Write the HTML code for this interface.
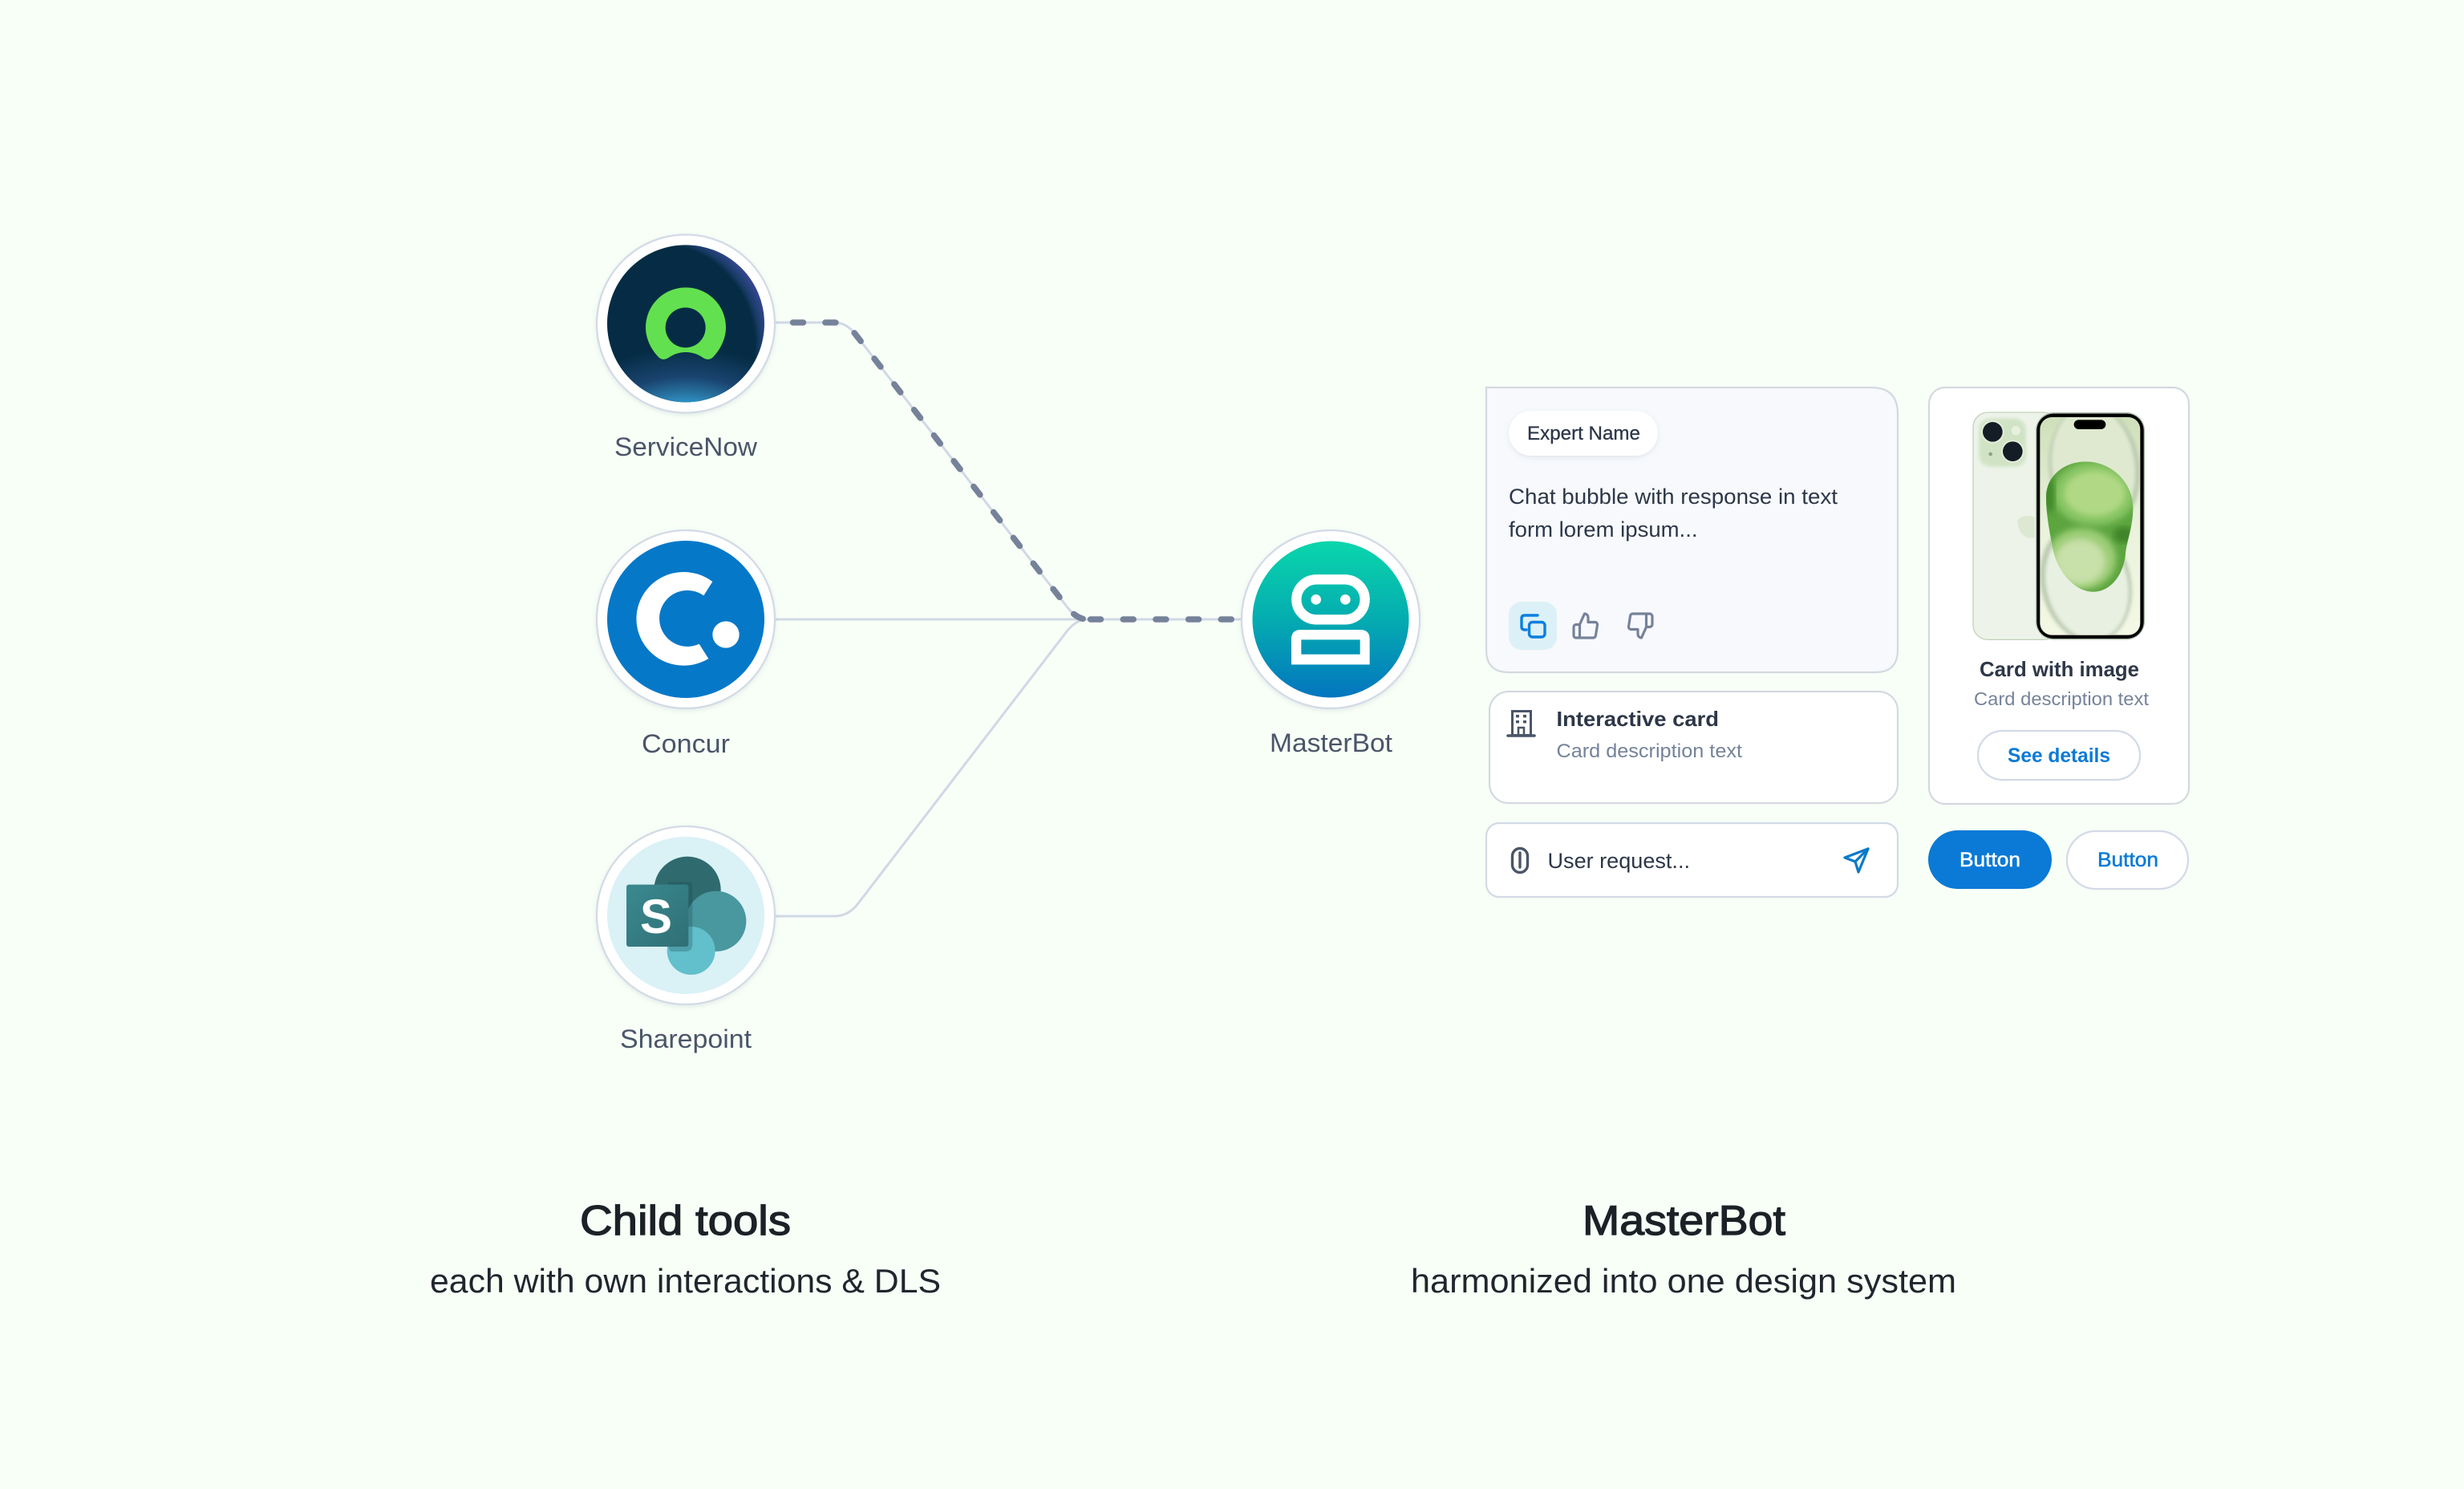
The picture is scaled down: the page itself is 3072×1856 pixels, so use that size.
<!DOCTYPE html>
<html lang="en">
<head>
<meta charset="utf-8">
<title>Child tools and MasterBot</title>
<style>
html,body{margin:0;padding:0;background:#f8fff7;}
svg{display:block;position:absolute;left:0;top:0;}
text{font-family:"Liberation Sans",sans-serif;}
</style>
</head>
<body>
<svg width="3072" height="1856" viewBox="0 0 3072 1856" xmlns="http://www.w3.org/2000/svg">
<defs>
  <filter id="softShadow" x="-20%" y="-20%" width="140%" height="140%"><feDropShadow dx="0" dy="2" stdDeviation="3" flood-color="#8a97ad" flood-opacity=".2"/></filter>
  <filter id="pillShadow" x="-20%" y="-30%" width="140%" height="170%"><feDropShadow dx="0" dy="2" stdDeviation="3" flood-color="#9aa7b8" flood-opacity=".25"/></filter>
  <filter id="b6"><feGaussianBlur stdDeviation="6"/></filter>
  <filter id="b12"><feGaussianBlur stdDeviation="12"/></filter>
  <radialGradient id="snBand" gradientUnits="userSpaceOnUse" cx="280" cy="480" r="480">
    <stop offset="0" stop-color="#052c44"/><stop offset=".8" stop-color="#052c44"/>
    <stop offset=".84" stop-color="#193c68"/><stop offset=".89" stop-color="#2b4483"/><stop offset=".95" stop-color="#46459f"/><stop offset="1" stop-color="#46459f"/>
  </radialGradient>
  <radialGradient id="snBlue" gradientUnits="userSpaceOnUse" cx="405" cy="830" r="340" gradientTransform="translate(405 830) scale(1.5 1) translate(-405 -830)">
    <stop offset="0" stop-color="#2aa2da"/><stop offset=".36" stop-color="#2a9fd6"/><stop offset=".46" stop-color="#2b7fae"/><stop offset=".68" stop-color="#1a4470"/><stop offset="1" stop-color="#1a4470" stop-opacity="0"/>
  </radialGradient>
  <linearGradient id="mbGrad" x1="0" y1="0" x2="0" y2="1">
    <stop offset="0" stop-color="#0ad6ab"/><stop offset=".5" stop-color="#04acb0"/><stop offset="1" stop-color="#0375bf"/>
  </linearGradient>
  <linearGradient id="spSq" x1="0" y1="0" x2="1" y2="1">
    <stop offset="0" stop-color="#3a8a90"/><stop offset="1" stop-color="#2f6f75"/>
  </linearGradient>
  <linearGradient id="scr" x1="0" y1="0" x2="0" y2="1">
    <stop offset="0" stop-color="#cfdfba"/><stop offset=".5" stop-color="#eaf2dc"/><stop offset="1" stop-color="#f3f8e4"/>
  </linearGradient>
  <clipPath id="snClip"><circle cx="405" cy="400" r="294"/></clipPath>
  <clipPath id="screen"><rect x="460" y="150" width="375" height="815" rx="45"/></clipPath>
  <clipPath id="greenClip"><path d="M620 317C720 310 808 390 808 490C808 560 785 610 780 660C775 730 730 805 655 803C590 800 530 730 510 650C500 600 483 520 483 450C483 370 550 320 620 317Z"/></clipPath>
</defs>

<rect width="3072" height="1856" fill="#f8fff7"/>

<!-- connectors -->
<g fill="none" stroke="#d0d8e6" stroke-width="3">
  <path d="M967 402H1040Q1055 402 1066 416L1330 756Q1342 772 1356 772"/>
  <path d="M967 772H1356"/>
  <path d="M967 1142H1040Q1058 1142 1070 1126L1330 787Q1342 772 1356 772"/>
  <path d="M1356 772H1548"/>
</g>
<g fill="none" stroke="#758299" stroke-width="7.5" stroke-linecap="round">
  <path stroke-dasharray="13 27.4" d="M988.5 402H1040Q1055 402 1066 416L1330 756Q1342 772 1356 772"/>
  <path stroke-dasharray="13 27.7" d="M1359.5 772H1540"/>
</g>

<!-- ServiceNow node -->
<circle cx="855" cy="403.5" r="111" fill="#fff" stroke="#d3dae6" stroke-width="2.2" filter="url(#softShadow)"/>
<g transform="translate(720 270) scale(.33333)">
  <g clip-path="url(#snClip)">
    <rect x="100" y="100" width="610" height="610" fill="url(#snBand)"/>
    <rect x="100" y="470" width="610" height="240" fill="url(#snBlue)"/>
  </g>
  <path fill="#63e04f" fill-rule="evenodd" d="M405 265C488 265 555 332 555 415C555 455 535 495 510 522C498 537 482 536 470 528C452 515 430 507 405 507C380 507 358 515 340 528C328 536 312 537 300 522C275 495 255 455 255 415C255 332 322 265 405 265ZM404 340A75 75 0 1 0 404 490A75 75 0 1 0 404 340Z"/>
</g>
<text x="766" y="568" font-size="32" fill="#4a5568" textLength="178" lengthAdjust="spacingAndGlyphs">ServiceNow</text>

<!-- Concur node -->
<circle cx="855" cy="772" r="111" fill="#fff" stroke="#d3dae6" stroke-width="2.2" filter="url(#softShadow)"/>
<circle cx="855" cy="772" r="98" fill="#0678c8"/>
<g transform="translate(720 640) scale(.33333)" fill="#fff">
  <path d="M505 255A177 175 0 1 0 490 543L455 488A105 105 0 1 1 472 307Z"/>
  <circle cx="555" cy="453" r="50"/>
</g>
<text x="800" y="938" font-size="32" fill="#4a5568" textLength="110" lengthAdjust="spacingAndGlyphs">Concur</text>

<!-- Sharepoint node -->
<circle cx="855" cy="1141" r="111" fill="#fff" stroke="#d3dae6" stroke-width="2.2" filter="url(#softShadow)"/>
<circle cx="855" cy="1141" r="98" fill="#daf1f6"/>
<g transform="translate(720 1010) scale(.33333)">
  <circle cx="411" cy="298" r="125" fill="#2f6b6e"/>
  <circle cx="518" cy="415" r="113" fill="#49979f"/>
  <circle cx="425" cy="525" r="90" fill="#62bfcc"/>
  <path d="M340 268H418Q430 268 430 280V500Q430 528 405 528H350Q340 520 340 505Z" fill="#16404a" opacity=".26"/>
  <rect x="183" y="278" width="232" height="232" rx="9" fill="url(#spSq)"/>
</g>
<text x="818" y="1163" font-size="60" font-weight="700" fill="#fff" text-anchor="middle">S</text>
<text x="773" y="1306" font-size="32" fill="#4a5568" textLength="164" lengthAdjust="spacingAndGlyphs">Sharepoint</text>

<!-- MasterBot node -->
<circle cx="1659" cy="772" r="111" fill="#fff" stroke="#d3dae6" stroke-width="2.2" filter="url(#softShadow)"/>
<circle cx="1659" cy="772" r="97.5" fill="url(#mbGrad)"/>
<g transform="translate(1520 640) scale(.33333)">
  <rect x="289" y="247" width="256" height="150" rx="75" fill="none" stroke="#fff" stroke-width="37"/>
  <circle cx="362" cy="322" r="19" fill="#fff"/>
  <circle cx="472" cy="322" r="19" fill="#fff"/>
  <path fill="#fff" fill-rule="evenodd" d="M270 565V470Q270 435 305 435H528Q563 435 563 470V565ZM307 472V527H527V472Z"/>
</g>
<text x="1583" y="937" font-size="32" fill="#4a5568" textLength="153" lengthAdjust="spacingAndGlyphs">MasterBot</text>

<!-- Chat bubble -->
<path d="M1853 483H2333Q2366 483 2366 516V810Q2366 838 2338 838H1881Q1853 838 1853 810Z" fill="#f7f9fc" stroke="#d3d9e0" stroke-width="2.2"/>
<rect x="1881" y="512" width="186" height="56" rx="28" fill="#fff" filter="url(#pillShadow)"/>
<text x="1904" y="548" font-size="24" fill="#2d3748" textLength="141" lengthAdjust="spacingAndGlyphs" stroke="#2d3748" stroke-width=".3">Expert Name</text>
<text x="1881" y="628" font-size="27" fill="#2d3748" textLength="410" lengthAdjust="spacingAndGlyphs">Chat bubble with response in text</text>
<text x="1881" y="669" font-size="27" fill="#2d3748" textLength="235.5" lengthAdjust="spacingAndGlyphs">form lorem ipsum...</text>
<rect x="1881" y="750" width="60" height="60" rx="16" fill="#dcf1f7"/>
<g fill="none" stroke="#0b7fde" stroke-width="3.4" stroke-linecap="round" stroke-linejoin="round">
  <rect x="1906.5" y="775.5" width="19.5" height="18.5" rx="4"/>
  <path d="M1917 767H1901Q1897 767 1897 771V781Q1897 785 1901 785H1903"/>
</g>
<g fill="none" stroke="#758299" stroke-width="2.1" stroke-linecap="round" stroke-linejoin="round">
  <path transform="translate(1959 762) scale(1.5)" d="M14 9V5a3 3 0 0 0-3-3l-4 9v11h11.28a2 2 0 0 0 2-1.7l1.38-9a2 2 0 0 0-2-2.3zM7 22H4a2 2 0 0 1-2-2v-7a2 2 0 0 1 2-2h3"/>
  <path transform="translate(2027 762) scale(1.5)" d="M10 15v4a3 3 0 0 0 3 3l4-9V2H5.72a2 2 0 0 0-2 1.7l-1.38 9a2 2 0 0 0 2 2.3zm7-13h2.67A2.31 2.31 0 0 1 22 4v7a2.31 2.31 0 0 1-2.33 2H17"/>
</g>

<!-- Interactive card -->
<rect x="1857" y="862" width="509" height="139" rx="24" fill="#fff" stroke="#d3d9e0" stroke-width="2.2"/>
<g fill="none" stroke="#4a5568" stroke-width="3">
  <rect x="1885.5" y="886.5" width="23" height="30"/>
  <path d="M1880 917H1913" stroke-width="3.6" stroke-linecap="round"/>
  <path d="M1893 917V907H1900V917" stroke-width="2.6"/>
</g>
<g fill="#4a5568">
  <rect x="1890" y="891" width="4" height="3.4"/><rect x="1899" y="891" width="4" height="3.4"/>
  <rect x="1890" y="898" width="4" height="3.4"/><rect x="1899" y="898" width="4" height="3.4"/>
</g>
<text x="1940.5" y="905" font-size="26" font-weight="700" fill="#2d3748" textLength="202.5" lengthAdjust="spacingAndGlyphs">Interactive card</text>
<text x="1940.5" y="944" font-size="24" fill="#75839a" textLength="231.5" lengthAdjust="spacingAndGlyphs">Card description text</text>

<!-- Input -->
<rect x="1853" y="1026" width="513" height="92" rx="16" fill="#fff" stroke="#d2dae6" stroke-width="2.2"/>
<g fill="none" stroke="#4a5568" stroke-width="3.4" stroke-linecap="round">
  <rect x="1885.5" y="1057.5" width="19" height="30" rx="9.5"/>
  <path d="M1895 1063V1081"/>
</g>
<text x="1929.5" y="1082" font-size="27" fill="#2d3748" textLength="177.5" lengthAdjust="spacingAndGlyphs">User request...</text>
<g fill="none" stroke="#0a7ac8" stroke-width="3.2" stroke-linejoin="round" stroke-linecap="round">
  <path d="M2329 1058L2300 1069L2313 1074L2317 1087Z"/>
  <path d="M2313 1074L2329 1058"/>
</g>

<!-- Image card -->
<rect x="2405" y="483" width="324" height="519" rx="20" fill="#fff" stroke="#d3d9e0" stroke-width="2.2"/>
<g transform="translate(2390 470) scale(.33333)">
  <rect x="210" y="132" width="320" height="850" rx="55" fill="#edf3e9" stroke="#c3d2bb" stroke-width="4"/>
  <rect x="232" y="155" width="176" height="180" rx="42" fill="#d0e3c4" filter="url(#b6)"/>
  <circle cx="283" cy="205" r="43" fill="#e3edd9"/>
  <circle cx="283" cy="205" r="37" fill="#141c26"/>
  <circle cx="358" cy="278" r="43" fill="#e3edd9"/>
  <circle cx="358" cy="278" r="37" fill="#141c26"/>
  <circle cx="370" cy="200" r="17" fill="#e7f0de"/>
  <circle cx="275" cy="288" r="7" fill="#8fa486"/>
  <path d="M375 540C385 515 420 515 440 525V600C415 610 380 590 375 540Z" fill="#dde8d3"/>
  <rect x="444" y="132" width="408" height="850" rx="68" fill="#a9b7a6"/>
  <rect x="448" y="137" width="400" height="841" rx="62" fill="#000"/>
  <rect x="460" y="150" width="375" height="815" rx="45" fill="url(#scr)"/>
  <g clip-path="url(#screen)">
    <ellipse cx="664" cy="340" rx="170" ry="235" transform="rotate(-8 664 340)" fill="#bccbb0" filter="url(#b6)"/>
    <ellipse cx="660" cy="335" rx="155" ry="228" transform="rotate(-8 660 335)" fill="#dfe9d0" filter="url(#b6)"/>
    <ellipse cx="632" cy="770" rx="168" ry="225" transform="rotate(-14 632 770)" fill="#bccbb2" filter="url(#b6)"/>
    <ellipse cx="636" cy="775" rx="152" ry="210" transform="rotate(-14 636 775)" fill="#e8f0e2" filter="url(#b6)"/>
    <path d="M620 317C720 310 808 390 808 490C808 560 785 610 780 660C775 730 730 805 655 803C590 800 530 730 510 650C500 600 483 520 483 450C483 370 550 320 620 317Z" fill="#5ca53f"/>
    <g clip-path="url(#greenClip)">
      <ellipse cx="665" cy="435" rx="155" ry="120" fill="#86c462" filter="url(#b12)"/>
      <ellipse cx="665" cy="435" rx="115" ry="85" fill="#b1d985" filter="url(#b12)"/>
      <ellipse cx="615" cy="680" rx="130" ry="115" fill="#9ccd76" filter="url(#b12)"/>
      <ellipse cx="610" cy="690" rx="95" ry="85" fill="#c8e0a9" filter="url(#b12)"/>
      <ellipse cx="775" cy="590" rx="40" ry="30" fill="#3f832b" filter="url(#b12)"/>
      <ellipse cx="495" cy="440" rx="22" ry="70" fill="#3f8a2c" filter="url(#b12)"/>
    </g>
  </g>
  <rect x="587" y="160" width="119" height="35" rx="17.5" fill="#000"/>
</g>
<text x="2468" y="843" font-size="26" font-weight="700" fill="#2d3748" textLength="199" lengthAdjust="spacingAndGlyphs">Card with image</text>
<text x="2461" y="879" font-size="23" fill="#75839a" textLength="218" lengthAdjust="spacingAndGlyphs">Card description text</text>
<rect x="2466" y="911" width="202" height="61" rx="30.5" fill="#fff" stroke="#d2dae6" stroke-width="2.2"/>
<text x="2503" y="950" font-size="25" font-weight="700" fill="#0a7ad6" textLength="128" lengthAdjust="spacingAndGlyphs">See details</text>

<!-- Buttons -->
<rect x="2404" y="1035" width="154" height="73" rx="36.5" fill="#0a7ad6"/>
<text x="2443" y="1080" font-size="25" fill="#fff" stroke="#fff" stroke-width=".5" textLength="76" lengthAdjust="spacingAndGlyphs">Button</text>
<rect x="2577" y="1036" width="151" height="72" rx="36" fill="#fff" stroke="#d2dae6" stroke-width="2.2"/>
<text x="2615" y="1080" font-size="25" fill="#0a7ad6" stroke="#0a7ad6" stroke-width=".5" textLength="76" lengthAdjust="spacingAndGlyphs">Button</text>

<!-- Captions -->
<text x="723" y="1539" font-size="52" fill="#1c2127" stroke="#1c2127" stroke-width="1.3" textLength="263" lengthAdjust="spacingAndGlyphs">Child tools</text>
<text x="536" y="1611" font-size="42" fill="#1f262d" textLength="637" lengthAdjust="spacingAndGlyphs">each with own interactions &amp; DLS</text>
<text x="1973" y="1539" font-size="52" fill="#1c2127" stroke="#1c2127" stroke-width="1.3" textLength="253" lengthAdjust="spacingAndGlyphs">MasterBot</text>
<text x="1759" y="1611" font-size="42" fill="#1f262d" textLength="680" lengthAdjust="spacingAndGlyphs">harmonized into one design system</text>
</svg>
</body>
</html>
